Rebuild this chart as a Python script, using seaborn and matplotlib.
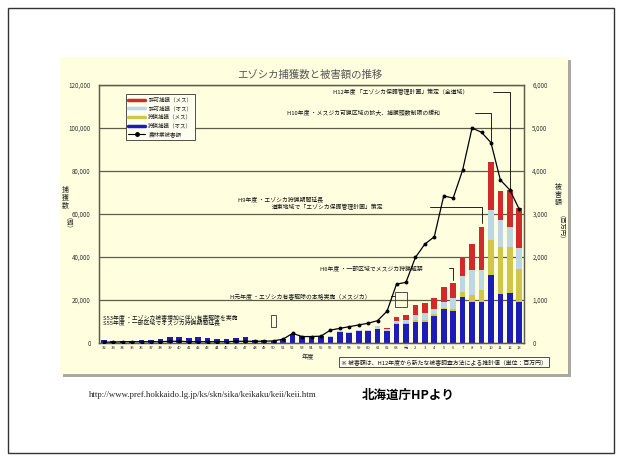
import numpy as np
import matplotlib
matplotlib.use("Agg")
import matplotlib.pyplot as plt
from matplotlib.patches import Rectangle
from matplotlib.lines import Line2D
import seaborn as sns

# ---------------- data ----------------
years = ["32", "33", "34", "35", "36", "37", "38", "39", "40", "41", "42", "43",
         "44", "45", "46", "47", "48", "49", "50", "51", "52", "53", "54", "55",
         "56", "57", "58", "59", "60", "61", "62", "63", "元", "2", "3", "4",
         "5", "6", "7", "8", "9", "10", "11", "12", "13"]

hunt_male = [1200, 1000, 1100, 1000, 1200, 1500, 2000, 2600, 2800, 2500, 2600, 2300,
             2000, 1800, 2200, 2800, 1500, 1200, 1000, 1800, 4200, 3400, 3400, 3400,
             3000, 5000, 4800, 5400, 5400, 6500, 5500, 8800, 8800, 10000, 10000, 12600,
             16000, 15000, 21500, 19200, 19200, 31600, 22600, 23400, 19200]
hunt_female = [0, 0, 0, 0, 0, 0, 0, 0, 0, 0, 0, 0,
               0, 0, 0, 0, 0, 0, 0, 0, 0, 0, 0, 0,
               0, 0, 0, 0, 0, 0, 0, 300, 500, 600, 800, 800,
               500, 1000, 2400, 3100, 5500, 16300, 21900, 21100, 15000]
permit_male = [0, 0, 0, 0, 0, 0, 0, 0, 0, 0, 0, 0,
               0, 0, 0, 0, 0, 0, 0, 0, 0, 0, 0, 0,
               200, 500, 500, 600, 600, 1500, 1000, 1000, 1200, 2500, 3000, 2500,
               2700, 5000, 7300, 11700, 9300, 14000, 12700, 9600, 10200]
permit_female = [0, 0, 0, 0, 0, 0, 0, 0, 0, 0, 0, 0,
                 0, 0, 0, 0, 0, 0, 0, 0, 0, 0, 0, 0,
                 0, 0, 0, 0, 0, 0, 700, 2100, 2500, 4600, 4800, 5000,
                 7000, 7000, 8300, 12000, 20100, 22300, 13600, 17100, 18400]
damage = [20, 20, 30, 30, 30, 30, 30, 40, 40, 30, 30, 30,
          30, 30, 40, 40, 40, 40, 50, 90, 225, 150, 150, 160,
          300, 340, 380, 420, 460, 520, 740, 1370, 1410, 1990, 2300, 2470,
          3420, 3370, 4020, 5000, 4900, 4660, 3790, 3560, 3110]

left_ticks = [0, 20000, 40000, 60000, 80000, 100000, 120000]
left_labels = ["0", "20,000", "40,000", "60,000", "80,000", "100,000", "120,000"]
right_ticks = [0, 1000, 2000, 3000, 4000, 5000, 6000]
right_labels = ["0", "1,000", "2,000", "3,000", "4,000", "5,000", "6,000"]

legend_labels = ["許可捕獲（メス）", "許可捕獲（オス）", "狩猟捕獲（メス）", "狩猟捕獲（オス）", "農林業被害額"]

# ---------------- style ----------------
sns.set_theme(style="white")
plt.rcParams['font.family'] = ['Noto Sans CJK JP', 'DejaVu Sans']

C_RED = "#d02a2a"
C_LIGHT = "#bcd8e4"
C_YEL = "#cfc64a"
C_BLUE = "#1c1cb8"
GRID = "#5c5c48"

W, H = 622, 461
fig = plt.figure(figsize=(W / 100, H / 100), dpi=100)
fig.patch.set_facecolor("white")


def fx(px):
    return px / W


def fy(py):
    return 1 - py / H


# slide frame, chart image background + shadow
fig.add_artist(Rectangle((fx(8), fy(453)), fx(614) - fx(8), fy(8) - fy(453),
                         transform=fig.transFigure, fill=False, edgecolor="#333333",
                         lw=1.0, zorder=-1))
fig.add_artist(Rectangle((fx(63), fy(377)), fx(571) - fx(63), fy(60) - fy(377),
                         transform=fig.transFigure, facecolor="#a9a9a0",
                         edgecolor="none", zorder=-3))
fig.add_artist(Rectangle((fx(60), fy(374)), fx(568) - fx(60), fy(57) - fy(374),
                         transform=fig.transFigure, facecolor="#ffffe0",
                         edgecolor="none", zorder=-2))

ax = fig.add_axes([fx(99), fy(343), fx(524) - fx(99), fy(85) - fy(343)])
ax.set_facecolor("none")

x = np.arange(len(years))
c1 = np.array(hunt_male)
c2 = c1 + np.array(hunt_female)
c3 = c2 + np.array(permit_male)
c4 = c3 + np.array(permit_female)

for vals, col in [(c4, C_RED), (c3, C_LIGHT), (c2, C_YEL), (c1, C_BLUE)]:
    sns.barplot(x=x, y=vals, color=col, saturation=1, width=0.6, errorbar=None,
                ax=ax, edgecolor="none", linewidth=0, zorder=2)

ax2 = ax.twinx()
sns.lineplot(x=x, y=damage, ax=ax2, color="black", lw=0.9, marker="o",
             markersize=2.8, markeredgewidth=0, zorder=5)

ax.set_xlim(-0.5, len(years) - 0.5)
ax.set_ylim(0, 120000)
ax2.set_ylim(0, 6000)

ax.set_yticks(left_ticks)
ax.set_yticklabels(left_labels, fontsize=4.5, color="#333333")
ax2.set_yticks(right_ticks)
ax2.set_yticklabels(right_labels, fontsize=4.5, color="#333333")
ax.set_xticks(x)
ax.set_xticklabels(years, fontsize=3, color="#222222")
ax.tick_params(axis="y", length=0, pad=6)
ax2.tick_params(axis="y", length=0, pad=6)
ax.tick_params(axis="x", length=0, pad=2)
ax.set_xlabel("")
ax.set_ylabel("")
ax2.set_xlabel("")
ax2.set_ylabel("")

ax.yaxis.grid(True, color=GRID, lw=0.9)
ax.set_axisbelow(True)
for a in (ax, ax2):
    for s in a.spines.values():
        s.set_color(GRID)
        s.set_linewidth(0.9)

# ---------------- annotations ----------------
def py2v(py):
    return (343 - py) * 120000 / 258


def px2x(px):
    return (px - 99) / (425 / len(years)) - 0.5


AF = dict(fontsize=4.2, color="#111111", va="center", ha="left", zorder=6)
ax.text(px2x(333), py2v(92), "H12年度 「エゾシカ保護管理計画」策定（全道域）", **AF)
ax.text(px2x(287), py2v(113), "H10年度 ・メスジカ可猟区域の拡大、捕獲頭数制限の緩和", **AF)
ax.text(px2x(238), py2v(200), "H9年度 ・エゾシカ狩猟期間延長", **AF)
ax.text(px2x(272), py2v(207), "道東地域で「エゾシカ保護管理計画」策定", **AF)
ax.text(px2x(320), py2v(268), "H6年度 ・一部区域でメスジカ狩猟解禁", **AF)
ax.text(px2x(230), py2v(296), "H元年度 ・エゾシカ有害駆除の本格実施（メスジカ）", **AF)
ax.text(px2x(103), py2v(317), "S53年度 ・エゾシカ被害増加に伴い有害駆除を実施", **AF)
ax.text(px2x(103), py2v(323), "S55年度 ・一部区域でオスジカ狩猟期間延長", **AF)

LK = dict(color="black", lw=0.6, zorder=6)
dmg = np.array(damage)
ax.plot([px2x(493), 43, 43], [py2v(92), py2v(92), dmg[43] * 20], **LK)
ax.plot([px2x(475), 41, 41], [py2v(113), py2v(113), dmg[41] * 20], **LK)
ax.plot([px2x(430), 40, 40], [py2v(207), py2v(207), c4[40] + 1500], **LK)
ax.plot([px2x(449), 37, 37], [py2v(268), py2v(268), c4[37] + 1500], **LK)
ax.plot([px2x(391), 30.8], [py2v(296), py2v(296)], **LK)
ax.add_patch(Rectangle((30.8, py2v(307)), 1.3, py2v(292) - py2v(307), fill=False,
                       edgecolor="#333333", lw=0.6, zorder=6))
ax.add_patch(Rectangle((17.7, py2v(327)), 0.5, py2v(315) - py2v(327), fill=False,
                       edgecolor="#333333", lw=0.6, zorder=6))

# legend
handles = [Line2D([], [], color=C_RED, lw=2.5),
           Line2D([], [], color=C_LIGHT, lw=2.5),
           Line2D([], [], color=C_YEL, lw=2.5),
           Line2D([], [], color=C_BLUE, lw=2.5),
           Line2D([], [], color="black", lw=0.8, marker="o", markersize=2.5)]
leg = ax2.legend(handles, legend_labels, loc="upper left", bbox_to_anchor=(0.056, 0.975),
                 fontsize=4, frameon=True, fancybox=False, edgecolor="#333333",
                 facecolor="#fffff0", framealpha=1, handlelength=3, labelspacing=0.55,
                 borderpad=0.5, handletextpad=0.6)
leg.get_frame().set_linewidth(0.6)

# titles and axis labels
fig.text(fx(310), fy(75), "エゾシカ捕獲数と被害額の推移", fontsize=7.5, color="#555555",
         ha="center", va="center")
fig.text(fx(65), fy(198), "捕\n獲\n数", fontsize=5, ha="center", va="center",
         linespacing=1.0, color="#222222")
fig.text(fx(65), fy(226), "（頭）", fontsize=4.5, rotation=270, ha="center",
         va="center", color="#222222")
fig.text(fx(558), fy(195), "被\n害\n額", fontsize=5, ha="center", va="center",
         linespacing=1.0, color="#222222")
fig.text(fx(558), fy(231), "（百万円）", fontsize=4.5, rotation=270, ha="center",
         va="center", color="#222222")
fig.text(fx(308), fy(357), "年度", fontsize=4.5, ha="center", va="center", color="#222222")
fig.text(fx(341), fy(362), "※ 被害額は、H12年度から新たな被害調査方法による推計値（単位：百万円）",
         fontsize=4.2, ha="left", va="center", color="#111111",
         bbox=dict(facecolor="#fffff0", edgecolor="#333333", lw=0.6, pad=1.5))

# source line
fig.text(fx(89), fy(395), "http://www.pref.hokkaido.lg.jp/ks/skn/sika/keikaku/keii/keii.htm",
         family=["Liberation Serif", "DejaVu Serif"], fontsize=6.3, va="center",
         ha="left", color="#222222")
fig.text(fx(362), fy(395), "北海道庁HPより", family=["Noto Sans CJK JP", "DejaVu Sans"],
         fontsize=9, fontweight="bold", va="center", ha="left", color="black")

fig.savefig("out.png", dpi=100, facecolor="white")
